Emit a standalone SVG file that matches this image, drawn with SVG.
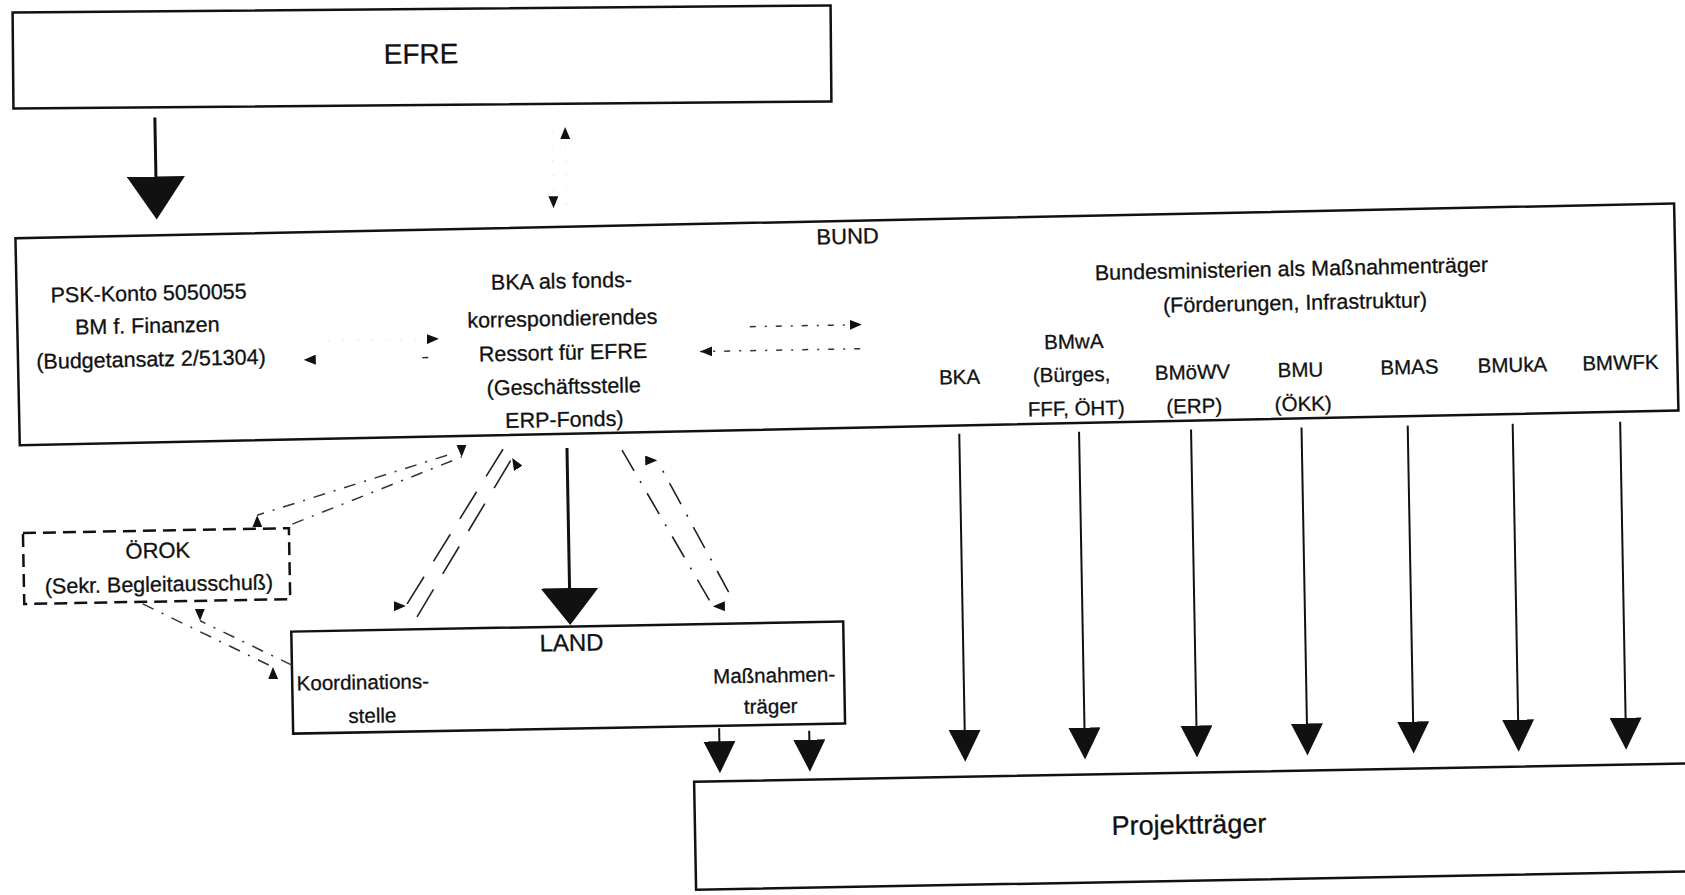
<svg xmlns="http://www.w3.org/2000/svg" width="1685" height="895" viewBox="0 0 1685 895">
<style>
.box{fill:none;stroke:#111;stroke-width:2.5}
.dbox{fill:none;stroke:#111;stroke-width:2.5;stroke-dasharray:13 7}
text{font-family:"Liberation Sans",Arial,sans-serif;fill:#111;stroke:#111;stroke-width:0.3;text-anchor:middle}
.t{font-size:21.5px}
.m{font-size:20.5px}
.thick{fill:none;stroke:#111;stroke-width:3}
.mid{fill:none;stroke:#111;stroke-width:2}
.faint{fill:none;stroke:#e6e6e6;stroke-width:1.2;stroke-dasharray:1.5 13}
.trace{fill:none;stroke:#333;stroke-width:1.5;stroke-dasharray:6 400}
.dashdot{fill:none;stroke:#333;stroke-width:1.5;stroke-dasharray:6 9 2 9}
.dotdash{fill:none;stroke:#333;stroke-width:1.5;stroke-dasharray:12 9 2 9}
.longdash{fill:none;stroke:#222;stroke-width:1.6;stroke-dasharray:32 18}
.dashdot2{fill:none;stroke:#222;stroke-width:1.6;stroke-dasharray:24 12 2 12}
</style>
<defs>
<marker id="hBig" markerUnits="userSpaceOnUse" viewBox="0 0 43 58" markerWidth="43" markerHeight="58" refX="33" refY="29" orient="auto"><path d="M0,0 L43,29 L0,58 z" fill="#111"/></marker>
<marker id="hLand" markerUnits="userSpaceOnUse" viewBox="0 0 37 58" markerWidth="37" markerHeight="58" refX="27" refY="29" orient="auto"><path d="M0,0 L37,29 L0,58 z" fill="#111"/></marker>
<marker id="hMid" markerUnits="userSpaceOnUse" viewBox="0 0 32 32" markerWidth="32" markerHeight="32" refX="22" refY="16" orient="auto"><path d="M0,0 L32,16 L0,32 z" fill="#111"/></marker>
<marker id="sR" markerUnits="userSpaceOnUse" viewBox="0 0 12 10" markerWidth="12" markerHeight="10" refX="12" refY="5" orient="0"><path d="M0,0 L12,5 L0,10 z" fill="#111"/></marker>
<marker id="sD" markerUnits="userSpaceOnUse" viewBox="0 0 12 10" markerWidth="12" markerHeight="10" refX="12" refY="5" orient="90"><path d="M0,0 L12,5 L0,10 z" fill="#111"/></marker>
<marker id="sL" markerUnits="userSpaceOnUse" viewBox="0 0 12 10" markerWidth="12" markerHeight="10" refX="12" refY="5" orient="180"><path d="M0,0 L12,5 L0,10 z" fill="#111"/></marker>
<marker id="sU" markerUnits="userSpaceOnUse" viewBox="0 0 12 10" markerWidth="12" markerHeight="10" refX="12" refY="5" orient="270"><path d="M0,0 L12,5 L0,10 z" fill="#111"/></marker>
<marker id="sUL" markerUnits="userSpaceOnUse" viewBox="0 0 12 10" markerWidth="12" markerHeight="10" refX="12" refY="5" orient="240"><path d="M0,0 L12,5 L0,10 z" fill="#111"/></marker>
</defs>
<rect x="0" y="0" width="1685" height="895" fill="#fff"/>
<g id="efre" transform="rotate(-0.5 422 57)">
  <rect class="box" x="13" y="9" width="818" height="96"/>
  <text x="421" y="63.5" style="font-size:28px">EFRE</text>
</g>
<g id="bund" transform="rotate(-1.2 842 447)">
  <rect class="box" x="20" y="221" width="1659" height="207"/>
  <text x="852" y="244" style="font-size:22px">BUND</text>
  <g id="psk-konto">
    <text class="t" x="152" y="286">PSK-Konto 5050055</text>
    <text class="t" x="150" y="318.5">BM f. Finanzen</text>
    <text class="t" x="153" y="352">(Budgetansatz 2/51304)</text>
  </g>
  <g id="bka-fonds">
    <text class="t" x="565" y="282.5">BKA als fonds-</text>
    <text class="t" x="565" y="320">korrespondierendes</text>
    <text class="t" x="565" y="354">Ressort für EFRE</text>
    <text class="t" x="565" y="388">(Geschäftsstelle</text>
    <text class="t" x="565" y="421">ERP-Fonds)</text>
  </g>
  <g id="bundesministerien">
    <text class="t" x="1295" y="285.5">Bundesministerien als Maßnahmenträger</text>
    <text class="t" x="1298" y="319.5">(Förderungen, Infrastruktur)</text>
    <text class="m" x="961" y="386.5">BKA</text>
    <text class="m" x="1076" y="353.5">BMwA</text>
    <text class="m" x="1073" y="386.5">(Bürges,</text>
    <text class="m" x="1077" y="420.5">FFF, ÖHT)</text>
    <text class="m" x="1194" y="386.5">BMöWV</text>
    <text class="m" x="1195" y="420.5">(ERP)</text>
    <text class="m" x="1302" y="386.5">BMU</text>
    <text class="m" x="1304" y="420.5">(ÖKK)</text>
    <text class="m" x="1411" y="386">BMAS</text>
    <text class="m" x="1514" y="386">BMUkA</text>
    <text class="m" x="1622" y="386">BMWFK</text>
  </g>
</g>
<g id="oerok" transform="rotate(-1.05 842 447)">
  <rect class="dbox" x="21.5" y="518" width="266" height="71"/>
  <text x="156" y="545.5" style="font-size:22px">ÖROK</text>
  <text class="t" x="156.5" y="579">(Sekr. Begleitausschuß)</text>
</g>
<g id="land" transform="rotate(-1.05 842 447)">
  <rect class="box" x="288" y="621.5" width="552" height="102"/>
  <text x="568" y="646" style="font-size:24px">LAND</text>
  <text class="m" x="292.5" y="680.5" style="text-anchor:start">Koordinations-</text>
  <text class="m" x="367.5" y="714">stelle</text>
  <text class="m" x="770" y="681">Maßnahmen-</text>
  <text class="m" x="766" y="712">träger</text>
</g>
<g id="projekttraeger" transform="rotate(-1.05 842 447)">
  <rect class="box" x="688" y="779" width="1030" height="108"/>
  <text x="1182" y="840" style="font-size:27px">Projektträger</text>
</g>
<g id="connectors" transform="rotate(-1.05 842 447)">
  <path class="thick" d="M161,105 V197" marker-end="url(#hBig)"/>
  <path class="faint" d="M571,200 V122" marker-end="url(#sU)"/>
  <path class="faint" d="M558,126 V203" marker-end="url(#sD)"/>
  <path class="trace" d="M430,350 H305.5" marker-end="url(#sL)"/>
  <path class="faint" d="M330,331.5 H441" marker-end="url(#sR)"/>
  <path class="dashdot" d="M752,325 H864" marker-end="url(#sR)"/>
  <path class="dashdot" d="M862,349 H702" marker-end="url(#sL)"/>
  <path class="thick" d="M567,443 V610" marker-end="url(#hLand)"/>
  <path class="dotdash" d="M447,448 L256,504.5" marker-end="url(#sU)"/>
  <path class="dotdash" d="M291,514 L461.6,450" marker-end="url(#sD)"/>
  <path class="dotdash" d="M140,591 L269,656.6" marker-end="url(#sU)"/>
  <path class="dotdash" d="M288,655 L197,609" marker-end="url(#sD)"/>
  <path class="longdash" d="M503,443 L403,598" marker-end="url(#sR)"/>
  <path class="longdash" d="M414,609 L512,452" marker-end="url(#sUL)"/>
  <path class="dashdot2" d="M622,446 L710,604" marker-end="url(#sL)"/>
  <path class="dashdot2" d="M726,590 L657,457" marker-end="url(#sR)"/>
  <path class="mid" d="M959.5,436 V754" marker-end="url(#hMid)"/>
  <path class="mid" d="M1079.3,436 V754" marker-end="url(#hMid)"/>
  <path class="mid" d="M1191.3,436 V754" marker-end="url(#hMid)"/>
  <path class="mid" d="M1301.8,436 V754" marker-end="url(#hMid)"/>
  <path class="mid" d="M1408,436 V754" marker-end="url(#hMid)"/>
  <path class="mid" d="M1513,436 V754" marker-end="url(#hMid)"/>
  <path class="mid" d="M1620.5,436 V754" marker-end="url(#hMid)"/>
  <path class="mid" d="M714,726 V761" marker-end="url(#hMid)"/>
  <path class="mid" d="M804,730 V761" marker-end="url(#hMid)"/>
</g>
</svg>
